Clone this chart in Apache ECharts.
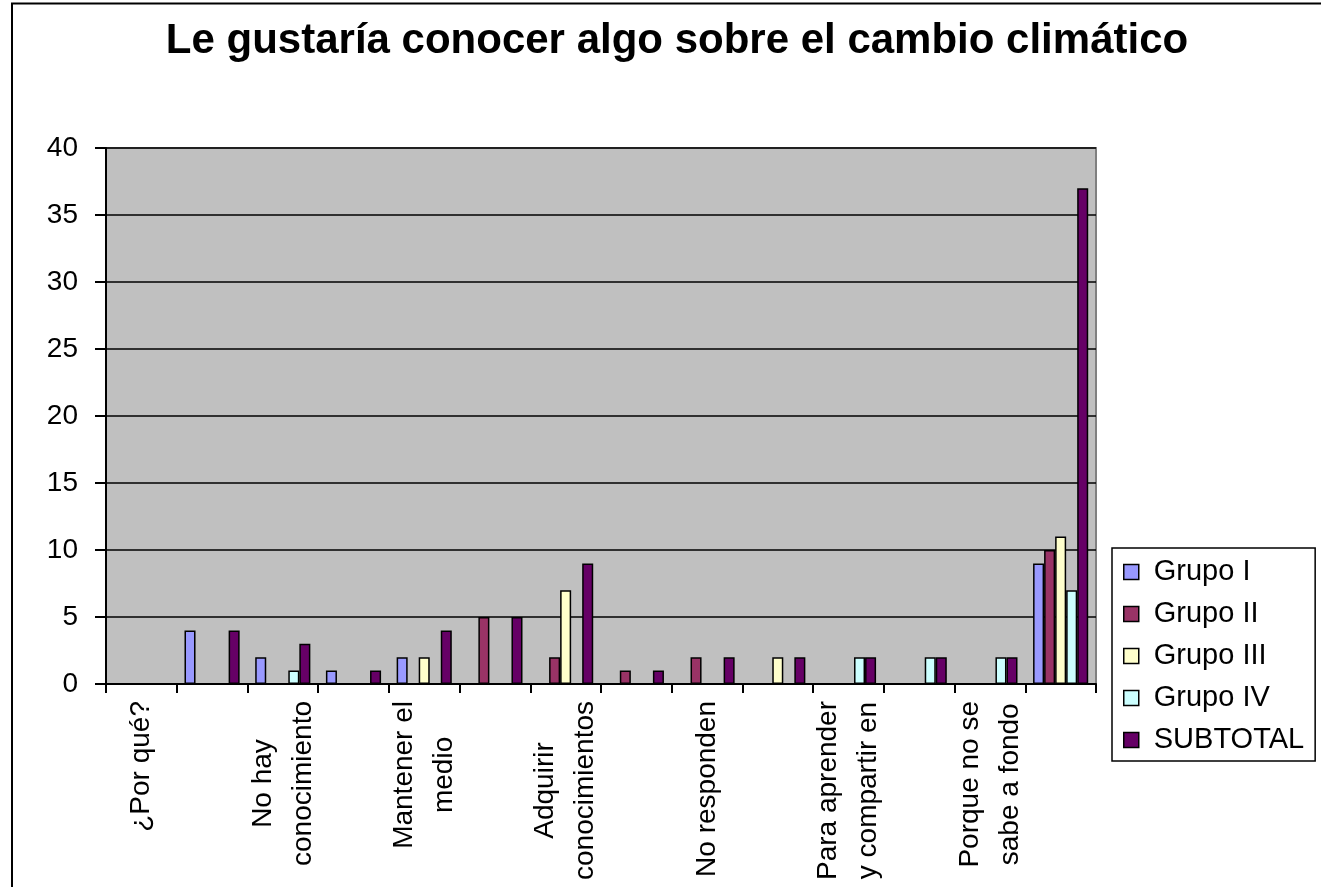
<!DOCTYPE html>
<html>
<head>
<meta charset="utf-8">
<script src="https://cdn.jsdelivr.net/npm/echarts@6/dist/echarts.min.js"></script>
<style>
html, body { margin: 0; padding: 0; background: #fff; }
#chart { width: 1321px; height: 887px; }
</style>
</head>
<body>
<div id="chart"></div>
<script>
const titleText = 'Le gustaría conocer algo sobre el cambio climático';
const categories = [
  '¿Por qué?', '',
  'No hay\nconocimiento', '',
  'Mantener el\nmedio', '',
  'Adquirir\nconocimientos', '',
  'No responden', '',
  'Para aprender\ny compartir en', '',
  'Porque no se\nsabe a fondo', ''
];
const seriesNames = ['Grupo I', 'Grupo II', 'Grupo III', 'Grupo IV', 'SUBTOTAL'];
const grupoI    = [null, 4, 2, 1, 2, null, null, null, null, null, null, null, null, 9];
const grupoII   = [null, null, null, null, null, 5, 2, 1, 2, null, null, null, null, 10];
const grupoIII  = [null, null, null, null, 2, null, 7, null, null, 2, null, null, null, 11];
const grupoIV   = [null, null, 1, null, null, null, null, null, null, null, 2, 2, 2, 7];
const subtotal  = [null, 4, 3, 1, 4, 5, 9, 1, 2, 2, 2, 2, 2, 37];
const yTicks = { min: 0, max: 40, interval: 5 };

const colors = ['#9999FF', '#993366', '#FFFFCC', '#CCFFFF', '#660066'];
const FONT = '"Liberation Sans", Arial, sans-serif';
const allData = [grupoI, grupoII, grupoIII, grupoIV, subtotal];

const chart = echarts.init(document.getElementById('chart'), null, { renderer: 'canvas' });
chart.setOption({
  animation: false,
  backgroundColor: '#ffffff',
  color: colors,
  title: {
    text: titleText,
    left: 672,
    textAlign: 'center',
    top: 15,
    textStyle: { fontFamily: FONT, fontSize: 42, fontWeight: 'bold', color: '#000' }
  },
  graphic: [{
    type: 'rect',
    shape: { x: 12, y: 3.5, width: 1400, height: 1000 },
    style: { fill: 'none', stroke: '#000', lineWidth: 2 },
    silent: true,
    z: -1
  }],
  legend: {
    orient: 'vertical',
    left: 1112,
    top: 548,
    padding: [9, 11, 6, 11],
    itemWidth: 15,
    itemHeight: 15,
    itemGap: 12,
    borderColor: '#000',
    borderWidth: 1.5,
    backgroundColor: '#fff',
    icon: 'rect',
    itemStyle: { borderColor: '#000', borderWidth: 1.5 },
    textStyle: { fontFamily: FONT, fontSize: 29, color: '#000', lineHeight: 30, padding: [0, 0, 0, 10] },
    data: seriesNames
  },
  grid: {
    left: 106,
    right: 225,
    top: 148,
    bottom: 203,
    show: true,
    backgroundColor: '#C0C0C0',
    borderColor: '#808080',
    borderWidth: 2,
    containLabel: false
  },
  xAxis: {
    type: 'category',
    data: categories,
    boundaryGap: true,
    axisLine: { lineStyle: { color: '#000', width: 2 } },
    axisTick: { show: true, interval: 0, length: 9, lineStyle: { color: '#000', width: 2 } },
    axisLabel: {
      interval: 0,
      rotate: 90,
      margin: 17,
      color: '#000',
      fontFamily: FONT,
      fontSize: 28,
      lineHeight: 40,
      formatter: function (v) {
        if (!v) return '';
        return v.split('\n').map(function (s) { return '{a|' + s + '}'; }).join('\n');
      },
      rich: {
        a: { fontFamily: FONT, fontSize: 28, lineHeight: 40, color: '#000', align: 'center' }
      }
    }
  },
  yAxis: {
    type: 'value',
    min: yTicks.min,
    max: yTicks.max,
    interval: yTicks.interval,
    axisLine: { show: true, lineStyle: { color: '#000', width: 2 } },
    axisTick: { show: true, length: 11, lineStyle: { color: '#000', width: 2 } },
    axisLabel: { color: '#000', fontFamily: FONT, fontSize: 28, margin: 28 },
    splitLine: { show: true, lineStyle: { color: '#000', width: 1.5 } }
  },
  series: seriesNames.map(function (name, i) {
    return {
      name: name,
      type: 'bar',
      data: allData[i],
      barGap: '0%',
      barCategoryGap: '22%',
      itemStyle: { color: colors[i], borderColor: '#000', borderWidth: 1.5 }
    };
  })
});
</script>
</body>
</html>
